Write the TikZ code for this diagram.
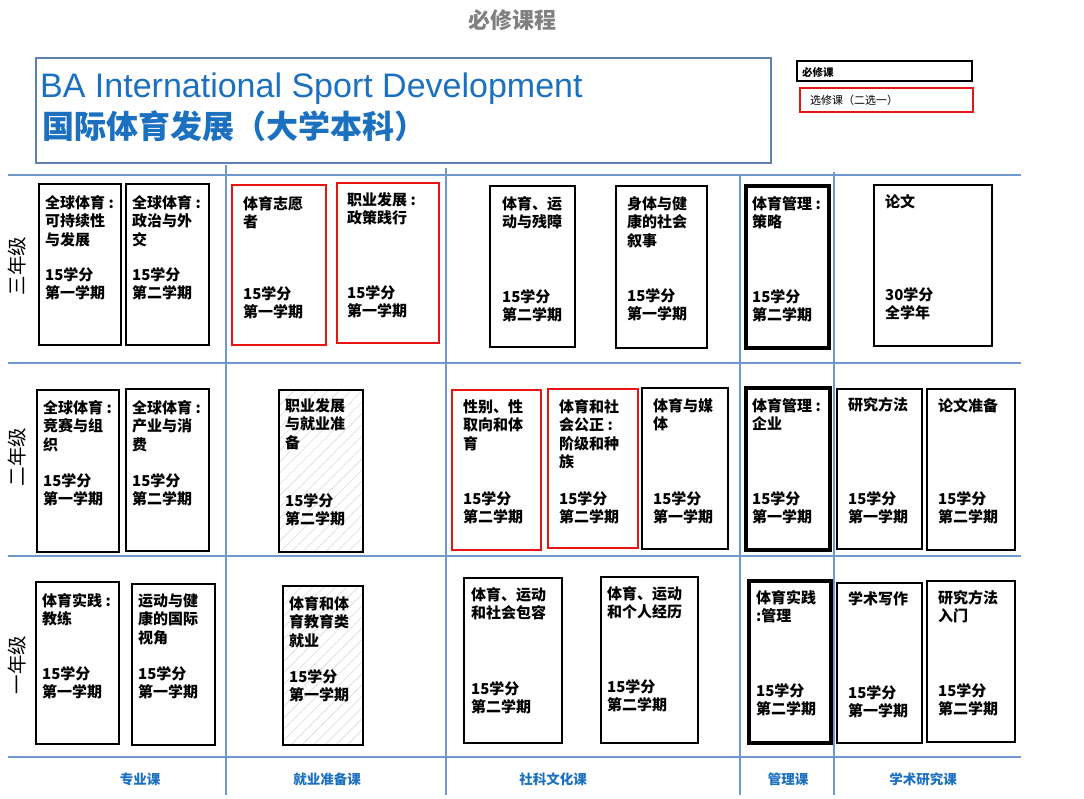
\documentclass[tikz,border=0pt]{standalone}
\usepackage{fontspec}
\setmainfont{Liberation Sans}
\newfontfamily\cjk{Noto Sans CJK SC}
\usetikzlibrary{patterns.meta}
\definecolor{gridblue}{RGB}{112,152,207}
\definecolor{titleblue}{RGB}{28,112,192}
\definecolor{kred}{RGB}{235,20,20}

\begin{document}
\begin{tikzpicture}[x=1pt,y=-1pt,
	bixiu/.style={draw=black,line width=2.6pt},
	guanli/.style={draw=black,line width=3.4pt},
	xuanxiu/.style={draw=kred,line width=1.8pt},
	jiuye/.style={bixiu,pattern={Lines[angle=45,distance=8pt,line width=0.6pt]},pattern color=black!15},
	ktext/.style={anchor=north west,inner sep=0pt,align=left,font=\cjk\bfseries\fontsize{15}{18.5}\selectfont},
	gitter/.style={gridblue,line width=1.4pt},
	spalte/.style={font=\cjk\bfseries\fontsize{13.5}{13.5}\selectfont,text=titleblue},
	jahr/.style={rotate=90,font=\cjk\fontsize{19.5}{19.5}\selectfont}]
	\useasboundingbox (0,0) rectangle (1084,798);
	
	% Kopf und Titel
	\node[font=\cjk\bfseries\fontsize{22}{22}\selectfont,text=black!50] (kopf) at (512,20) {必修课程};
	\draw[gridblue!85!black,line width=2pt] (36,58) rectangle (771,163);
	\node[anchor=base west,inner sep=0pt,text=titleblue,font=\fontsize{34}{36}\selectfont] (en) at (40,97) {BA International Sport Development};
	\node[anchor=base west,inner sep=0pt,text=titleblue,font=\cjk\bfseries\fontsize{32}{34}\selectfont] (zh) at (42,138) {国际体育发展（大学本科）};
	
	% Legende
	\draw[bixiu] (797,61) rectangle (972,81);
	\node[anchor=west,inner sep=0pt,font=\cjk\bfseries\fontsize{10.5}{12}\selectfont] (lg1) at (802,72) {必修课};
	\draw[xuanxiu] (800,88) rectangle (973,112);
	\node[anchor=west,inner sep=0pt,font=\cjk\fontsize{11}{13}\selectfont] (lg2) at (810,100) {选修课（二选一）};
	
	% Raster
	\draw[gitter] (8,175) -- (1021,175);
	\draw[gitter] (8,363) -- (1021,363);
	\draw[gitter] (8,556) -- (1021,556);
	\draw[gitter] (8,757) -- (1021,757);
	\draw[gitter] (226,165) -- (226,795);
	\draw[gitter] (446,168) -- (446,795);
	\draw[gitter] (740,174) -- (740,795);
	\draw[gitter] (834,172) -- (834,795);
	
	% Jahrgaenge
	\node[jahr] (j3) at (17,266) {三年级};
	\node[jahr] (j2) at (17,457) {二年级};
	\node[jahr] (j1) at (17,665) {一年级};
	
	% Spalten
	\node[spalte] (s1) at (140,779) {专业课};
	\node[spalte] (s2) at (327,779) {就业准备课};
	\node[spalte] (s3) at (553,779) {社科文化课};
	\node[spalte] (s4) at (788,779) {管理课};
	\node[spalte] (s5) at (923,779) {学术研究课};
	
	% drittes Jahr
	\draw[bixiu] (39,184) rectangle (121,345);
	\node[ktext] (k31) at (45,195) {全球体育 :\\可持续性\\与发展\\[16.5pt]15学分\\第一学期};
	\draw[bixiu] (126,184) rectangle (209,345);
	\node[ktext] (k32) at (132,195) {全球体育 :\\政治与外\\交\\[16.5pt]15学分\\第二学期};
	\draw[xuanxiu] (232,185) rectangle (326,345);
	\node[ktext] (k33) at (243,196) {体育志愿\\者\\[53pt]15学分\\第一学期};
	\draw[xuanxiu] (337,183) rectangle (439,343);
	\node[ktext] (k34) at (347,192) {职业发展 :\\政策践行\\[56pt]15学分\\第一学期};
	\draw[bixiu] (490,186) rectangle (575,347);
	\node[ktext] (k35) at (502,196) {体育、运\\动与残障\\[56pt]15学分\\第二学期};
	\draw[bixiu] (616,186) rectangle (707,348);
	\node[ktext] (k36) at (627,196) {身体与健\\康的社会\\叙事\\[36.5pt]15学分\\第一学期};
	\draw[guanli] (746,186) rectangle (829,348);
	\node[ktext] (k37) at (752,196) {体育管理 :\\策略\\[56pt]15学分\\第二学期};
	\draw[bixiu] (874,185) rectangle (992,346);
	\node[ktext] (k38) at (885,194) {论文\\[74.5pt]30学分\\全学年};
	
	% zweites Jahr
	\draw[bixiu] (37,390) rectangle (119,552);
	\node[ktext] (k21) at (43,400) {全球体育 :\\竞赛与组\\织\\[17.5pt]15学分\\第一学期};
	\draw[bixiu] (126,389) rectangle (209,551);
	\node[ktext] (k22) at (132,400) {全球体育 :\\产业与消\\费\\[17.5pt]15学分\\第二学期};
	\draw[jiuye] (279,390) rectangle (363,552);
	\node[ktext] (k23) at (285,398) {职业发展\\与就业准\\备\\[39.5pt]15学分\\第二学期};
	\draw[xuanxiu] (452,390) rectangle (541,550);
	\node[ktext] (k24) at (463,399) {性别、性\\取向和体\\育\\[36.5pt]15学分\\第二学期};
	\draw[xuanxiu] (548,389) rectangle (638,548);
	\node[ktext] (k25) at (559,399) {体育和社\\会公正 :\\阶级和种\\族\\[18pt]15学分\\第二学期};
	\draw[bixiu] (642,388) rectangle (728,549);
	\node[ktext] (k26) at (653,398) {体育与媒\\体\\[56pt]15学分\\第一学期};
	\draw[guanli] (746,388) rectangle (830,550);
	\node[ktext] (k27) at (752,398) {体育管理 :\\企业\\[56pt]15学分\\第一学期};
	\draw[bixiu] (837,389) rectangle (922,549);
	\node[ktext] (k28) at (848,397) {研究方法\\[75.5pt]15学分\\第一学期};
	\draw[bixiu] (927,389) rectangle (1015,550);
	\node[ktext] (k29) at (938,398) {论文准备\\[74.5pt]15学分\\第二学期};
	
	% erstes Jahr
	\draw[bixiu] (36,582) rectangle (119,744);
	\node[ktext] (k11) at (42,593) {体育实践 :\\教练\\[36pt]15学分\\第一学期};
	\draw[bixiu] (132,584) rectangle (215,745);
	\node[ktext] (k12) at (138,593) {运动与健\\康的国际\\视角\\[17.5pt]15学分\\第一学期};
	\draw[jiuye] (283,586) rectangle (363,745);
	\node[ktext] (k13) at (289,596) {体育和体\\育教育类\\就业\\[17.5pt]15学分\\第一学期};
	\draw[bixiu] (464,578) rectangle (562,743);
	\node[ktext] (k14) at (471,587) {体育、运动\\和社会包容\\[57pt]15学分\\第二学期};
	\draw[bixiu] (601,577) rectangle (698,743);
	\node[ktext] (k15) at (607,586) {体育、运动\\和个人经历\\[56pt]15学分\\第二学期};
	\draw[guanli] (749,581) rectangle (831,743);
	\node[ktext] (k16) at (756,590) {体育实践\\:管理\\[56pt]15学分\\第二学期};
	\draw[bixiu] (837,583) rectangle (922,743);
	\node[ktext] (k17) at (848,591) {学术写作\\[75.5pt]15学分\\第一学期};
	\draw[bixiu] (927,581) rectangle (1015,742);
	\node[ktext] (k18) at (938,590) {研究方法\\入门\\[56pt]15学分\\第二学期};
	
\end{tikzpicture}
\end{document}
